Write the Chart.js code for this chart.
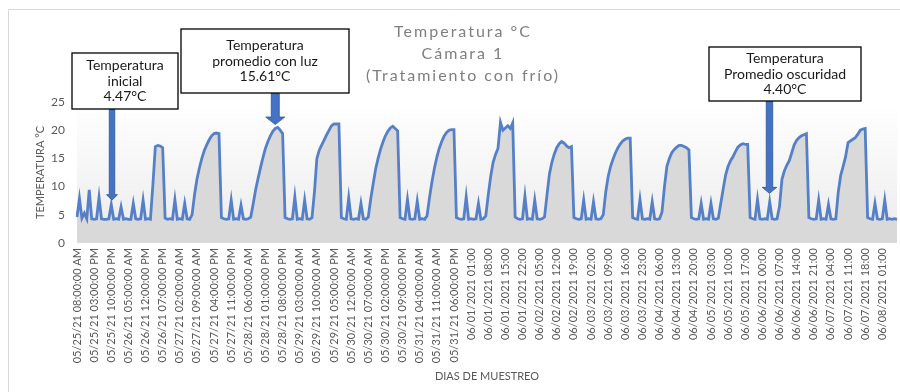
<!DOCTYPE html>
<html>
<head>
<meta charset="utf-8">
<script src="https://cdn.jsdelivr.net/npm/chart.js@4.4.1/dist/chart.umd.min.js"></script>
<style>
  html, body { margin: 0; padding: 0; background: #ffffff; }
  #wrap { width: 900px; height: 392px; position: relative; }
</style>
</head>
<body>
<div id="wrap"><canvas id="chart" width="900" height="392"></canvas></div>
<script>
// Hourly readings, starting 05/25/21 08:00
const temps = [
  4.6, 7.9, 4.4, 5.3, 4.3, 9.4, 4.3, 4.2, 4.3, 8.1, 4.3, 4.2, 4.2, 4.3, 6.8, 4.2, 4.3, 4.2, 6.4, 4.2, 4.3, 4.2, 4.2, 7.0,
  4.3, 4.2, 4.3, 7.6, 4.2, 4.3, 4.2, 10.3, 17.1, 17.3, 17.2, 16.9, 4.4, 4.2, 4.3, 4.2, 7.7, 4.2, 4.3, 4.2, 7.0, 4.3, 4.2, 5.0,
  8.5, 11.3, 13.3, 15.0, 16.4, 17.4, 18.3, 19.0, 19.4, 19.5, 19.4, 4.5, 4.3, 4.2, 4.3, 7.6, 4.2, 4.3, 4.2, 6.7, 4.3, 4.2, 4.3, 4.6,
  7.0, 9.5, 11.5, 13.4, 15.2, 16.8, 18.0, 19.0, 19.8, 20.3, 20.5, 20.0, 19.4, 4.5, 4.3, 4.2, 4.3, 8.2, 4.2, 4.3, 4.2, 7.6, 4.3, 4.2,
  4.5, 9.0, 15.0, 16.5, 17.4, 18.3, 19.2, 20.0, 20.8, 21.1, 21.1, 21.1, 4.5, 4.3, 4.2, 8.0, 4.3, 4.2, 4.3, 4.2, 7.0, 4.3, 4.2, 4.6,
  7.8, 10.5, 13.1, 15.0, 16.6, 17.9, 19.0, 19.8, 20.4, 20.7, 20.3, 19.9, 4.5, 4.3, 4.2, 7.7, 4.3, 4.2, 4.3, 7.4, 4.2, 4.3, 4.2, 4.8,
  8.0, 10.8, 13.2, 15.2, 16.8, 18.0, 19.0, 19.6, 20.0, 20.1, 20.1, 4.5, 4.3, 4.2, 4.3, 8.2, 4.2, 4.3, 4.2, 4.3, 7.0, 4.2, 4.3, 4.8,
  8.5, 11.8, 14.3, 15.7, 16.8, 21.4, 20.0, 20.4, 20.8, 20.3, 21.3, 4.6, 4.3, 4.2, 4.3, 8.3, 4.2, 4.3, 4.2, 7.6, 4.3, 4.2, 4.3, 4.6,
  8.5, 12.2, 14.3, 15.8, 16.9, 17.6, 18.0, 17.7, 17.2, 16.9, 17.1, 4.5, 4.3, 4.2, 4.3, 7.6, 4.2, 4.3, 4.2, 7.3, 4.3, 4.2, 4.3, 5.0,
  9.0, 11.8, 13.6, 14.9, 16.0, 16.9, 17.6, 18.1, 18.4, 18.6, 18.6, 4.5, 4.3, 4.2, 7.7, 4.3, 4.2, 4.3, 4.2, 7.3, 4.3, 4.2, 4.3, 5.5,
  10.0, 13.6, 15.0, 16.0, 16.6, 17.0, 17.3, 17.3, 17.1, 16.9, 16.5, 4.5, 4.3, 4.2, 4.3, 7.0, 4.2, 4.3, 4.2, 7.0, 4.3, 4.2, 4.4, 7.0,
  9.6, 12.1, 13.6, 14.6, 15.3, 16.2, 17.0, 17.4, 17.6, 17.5, 17.5, 4.5, 4.3, 4.2, 7.7, 4.3, 4.2, 4.3, 4.2, 7.3, 4.3, 4.2, 4.3, 6.5,
  11.3, 12.8, 13.8, 14.6, 16.0, 17.4, 18.2, 18.7, 19.0, 19.2, 19.4, 4.5, 4.3, 4.2, 4.3, 7.6, 4.2, 4.3, 4.2, 6.8, 4.3, 4.2, 4.3, 9.0,
  12.0, 13.6, 15.3, 17.8, 18.1, 18.4, 18.7, 19.3, 20.0, 20.2, 20.3, 4.5, 4.3, 4.2, 7.0, 4.3, 4.2, 4.3, 7.6, 4.2, 4.3, 4.2, 4.3, 4.2
];

// One label every 7 readings
const tickLabels = [
  '05/25/21 08:00:00 AM', '05/25/21 03:00:00 PM', '05/25/21 10:00:00 PM',
  '05/26/21 05:00:00 AM', '05/26/21 12:00:00 PM', '05/26/21 07:00:00 PM',
  '05/27/21 02:00:00 AM', '05/27/21 09:00:00 AM', '05/27/21 04:00:00 PM', '05/27/21 11:00:00 PM',
  '05/28/21 06:00:00 AM', '05/28/21 01:00:00 PM', '05/28/21 08:00:00 PM',
  '05/29/21 03:00:00 AM', '05/29/21 10:00:00 AM', '05/29/21 05:00:00 PM',
  '05/30/21 12:00:00 AM', '05/30/21 07:00:00 AM', '05/30/21 02:00:00 PM', '05/30/21 09:00:00 PM',
  '05/31/21 04:00:00 AM', '05/31/21 11:00:00 AM', '05/31/21 06:00:00 PM',
  '06/01/2021 01:00', '06/01/2021 08:00', '06/01/2021 15:00', '06/01/2021 22:00',
  '06/02/2021 05:00', '06/02/2021 12:00', '06/02/2021 19:00',
  '06/03/2021 02:00', '06/03/2021 09:00', '06/03/2021 16:00', '06/03/2021 23:00',
  '06/04/2021 06:00', '06/04/2021 13:00', '06/04/2021 20:00',
  '06/05/2021 03:00', '06/05/2021 10:00', '06/05/2021 17:00',
  '06/06/2021 00:00', '06/06/2021 07:00', '06/06/2021 14:00', '06/06/2021 21:00',
  '06/07/2021 04:00', '06/07/2021 11:00', '06/07/2021 18:00',
  '06/08/2021 01:00'
];
const labelEvery = 7;

const titleLines = ['Temperatura °C', 'Cámara 1', '(Tratamiento con frío)'];

// Callout boxes: box in canvas pixels, arrow tip in data units (reading index, °C)
const callouts = [
  { lines: ['Temperatura', 'inicial', '4.47°C'], box: [72, 53, 178, 109], tipIndex: 14.3, tipValue: 7.6, shaft: 5.5, head: 11, headLen: 5.5 },
  { lines: ['Temperatura', 'promedio con luz', '15.61°C'], box: [181, 29, 349, 93], tipIndex: 81.0, tipValue: 21.0, shaft: 8, head: 19, headLen: 7.5 },
  { lines: ['Temperatura', 'Promedio oscuridad', '4.40°C'], box: [709, 47, 861, 101], tipIndex: 282.9, tipValue: 8.8, shaft: 6.5, head: 14.5, headLen: 6 }
];

const FONT = 'Lato, "Liberation Sans", sans-serif';
const xLabels = temps.map((_, i) => (i % labelEvery === 0 ? tickLabels[i / labelEvery] : ''));

const backdrop = {
  id: 'backdrop',
  beforeDraw(chart) {
    const { ctx, chartArea: a } = chart;
    ctx.save();
    ctx.fillStyle = '#ffffff';
    ctx.fillRect(0, 0, chart.width, chart.height);
    // outer frame (top and left edges)
    ctx.strokeStyle = '#d9d9d9';
    ctx.lineWidth = 1;
    ctx.beginPath();
    ctx.moveTo(8.5, chart.height);
    ctx.lineTo(8.5, 9.5);
    ctx.lineTo(chart.width, 9.5);
    ctx.stroke();
    // plot area shading
    const g = ctx.createLinearGradient(0, a.top, 0, a.bottom);
    g.addColorStop(0, '#ffffff');
    g.addColorStop(1, '#ebebeb');
    ctx.fillStyle = g;
    ctx.fillRect(a.left, a.top, a.right - a.left, a.bottom - a.top);
    ctx.restore();
  }
};

const overlay = {
  id: 'overlay',
  afterDraw(chart) {
    const { ctx } = chart;
    const xs = chart.scales.x, ys = chart.scales.y;
    ctx.save();
    // title
    ctx.fillStyle = '#7f7f7f';
    ctx.font = '16px ' + FONT;
    ctx.textAlign = 'center';
    ctx.textBaseline = 'middle';
    if ('letterSpacing' in ctx) ctx.letterSpacing = '2px';
    titleLines.forEach((t, i) => ctx.fillText(t, 463, 32 + i * 22));
    if ('letterSpacing' in ctx) ctx.letterSpacing = '0px';

    callouts.forEach(c => {
      const [l, t, r, b] = c.box;
      const tx = xs.getPixelForValue(c.tipIndex);
      const ty = ys.getPixelForValue(c.tipValue);
      // arrow
      const hs = c.shaft / 2, hh = c.head / 2, hy = ty - c.headLen;
      ctx.beginPath();
      ctx.moveTo(tx - hs, b);
      ctx.lineTo(tx + hs, b);
      ctx.lineTo(tx + hs, hy);
      ctx.lineTo(tx + hh, hy);
      ctx.lineTo(tx, ty);
      ctx.lineTo(tx - hh, hy);
      ctx.lineTo(tx - hs, hy);
      ctx.closePath();
      ctx.fillStyle = '#4472c4';
      ctx.fill();
      ctx.strokeStyle = '#2f5597';
      ctx.lineWidth = 0.8;
      ctx.stroke();
      // box
      ctx.fillStyle = '#ffffff';
      ctx.fillRect(l, t, r - l, b - t);
      ctx.strokeStyle = '#000000';
      ctx.lineWidth = 1.3;
      ctx.strokeRect(l, t, r - l, b - t);
      ctx.fillStyle = '#1a1a1a';
      ctx.font = '14px ' + FONT;
      ctx.textAlign = 'center';
      ctx.textBaseline = 'middle';
      const cx = (l + r) / 2;
      const mid = (t + b) / 2;
      c.lines.forEach((s, i) => ctx.fillText(s, cx, mid + (i - 1) * 15.5));
    });
    ctx.restore();
  }
};

new Chart(document.getElementById('chart'), {
  type: 'line',
  data: {
    labels: xLabels,
    datasets: [{
      data: temps,
      borderColor: '#5580c8',
      borderWidth: 2.8,
      backgroundColor: '#d9d9d9',
      fill: 'origin',
      pointRadius: 0,
      tension: 0
    }]
  },
  options: {
    responsive: false,
    animation: false,
    events: [],
    layout: { padding: { top: 102, right: 3, left: 0, bottom: 0 } },
    plugins: { legend: { display: false }, tooltip: { enabled: false }, title: { display: false } },
    scales: {
      x: {
        type: 'category',
        offset: false,
        grid: { display: false, drawTicks: false },
        border: { display: false },
        ticks: {
          autoSkip: false, minRotation: 90, maxRotation: 90, padding: 5,
          color: '#595959', font: { family: FONT, size: 11 }
        },
        title: {
          display: true, text: 'DIAS DE MUESTREO', color: '#595959',
          font: { family: FONT, size: 11 }, padding: { top: 0, bottom: 9 }
        },
        afterFit(scale) {
          scale.height = 149;
          scale.paddingLeft = 0;
          scale.paddingRight = 0;
        }
      },
      y: {
        min: 0, max: 25,
        grid: { display: false, drawTicks: false },
        border: { display: false },
        ticks: { stepSize: 5, padding: 12, color: '#595959', font: { family: FONT, size: 12 } },
        title: {
          display: true, text: 'TEMPERATURA °C', color: '#595959',
          font: { family: FONT, size: 11 }, padding: { top: 34, bottom: 0 }
        },
        afterFit(scale) { scale.width = 77; }
      }
    }
  },
  plugins: [backdrop, overlay]
});
</script>
</body>
</html>
